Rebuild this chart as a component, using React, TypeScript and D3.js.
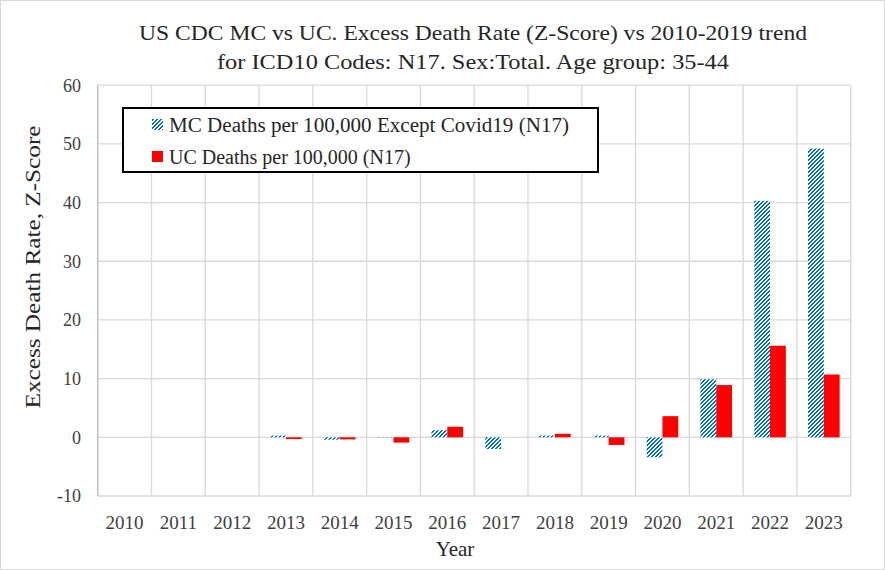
import React from "react";
import * as d3 from "d3";

const years = ["2010","2011","2012","2013","2014","2015","2016","2017","2018","2019","2020","2021","2022","2023"];
const mcValues = [0, 0, 0, 0.3, -0.4, 0.05, 1.2, -2.0, 0.3, 0.3, -3.4, 9.9, 40.3, 49.2];
const ucValues = [0, 0, 0, -0.3, -0.35, -0.9, 1.8, 0, 0.6, -1.3, 3.6, 8.9, 15.6, 10.7];
const yTicks = [-10, 0, 10, 20, 30, 40, 50, 60];
const seriesNames = ["MC Deaths per 100,000 Except Covid19 (N17)", "UC Deaths per 100,000 (N17)"];
const titleLines = ["US CDC MC vs UC. Excess Death Rate (Z-Score) vs 2010-2019 trend", "for ICD10 Codes: N17. Sex:Total. Age group: 35-44"];

const W = 885, H = 570;
const plot = { left: 97.7, right: 850.7, top: 85.2, bottom: 496 };
const FONT = "'Liberation Serif', 'Times New Roman', serif";

export default function App() {
  const x = d3.scaleBand().domain(years).range([plot.left, plot.right]).paddingInner(0).paddingOuter(0);
  const sub = d3.scaleBand().domain(["MC", "UC"]).range([0, x.bandwidth()]).paddingInner(0).paddingOuter(0.7);
  const y = d3.scaleLinear().domain([-10, 60]).range([plot.bottom, plot.top]);
  const boundaries = [...years.map((yr) => x(yr) as number), plot.right];
  const rows = years.map((yr, i) => ({ yr, mc: mcValues[i], uc: ucValues[i] }));

  return (
    <svg width={W} height={H} style={{ position: "absolute", left: 0, top: 0, display: "block" }} fontFamily={FONT}>
      <defs>
        <pattern id="hatch" width="4" height="4" patternUnits="userSpaceOnUse">
          <rect width="4" height="4" fill="#ffffff" />
          {[0, 1, 2, 3].map((r) => (
            <g key={r}>
              <rect x={(3 - r + 4) % 4} y={r} width="1" height="1" fill="#0070C0" shapeRendering="crispEdges" />
              <rect x={(4 - r + 4) % 4} y={r} width="1" height="1" fill="#0070C0" shapeRendering="crispEdges" />
            </g>
          ))}
        </pattern>
      </defs>
      <rect x={0} y={0} width={W} height={H} fill="#ffffff" />
      <rect x={0.5} y={0.5} width={W - 1} height={H - 1} fill="none" stroke="#d9d9d9" strokeWidth={1} />

      {/* gridlines */}
      {yTicks.map((t) => (
        <line key={"h" + t} x1={plot.left} x2={plot.right} y1={y(t)} y2={y(t)} stroke="#d9d9d9" strokeWidth={1.3} />
      ))}
      {boundaries.map((bx, i) => (
        <line key={"v" + i} x1={bx} x2={bx} y1={plot.top} y2={plot.bottom} stroke="#d9d9d9" strokeWidth={1.3} />
      ))}
      <line x1={plot.left} x2={plot.left} y1={plot.top} y2={plot.bottom} stroke="#bfbfbf" strokeWidth={1.3} />

      {/* bars */}
      {rows.map((r) => (
        <g key={r.yr}>
          <rect x={(x(r.yr) as number) + (sub("MC") as number)} width={sub.bandwidth()}
            y={y(Math.max(0, r.mc))} height={Math.abs(y(r.mc) - y(0))} fill="url(#hatch)" />
          <rect x={(x(r.yr) as number) + (sub("UC") as number)} width={sub.bandwidth()}
            y={y(Math.max(0, r.uc))} height={Math.abs(y(r.uc) - y(0))} fill="#FF0000" />
        </g>
      ))}

      {/* y tick labels */}
      {yTicks.map((t) => (
        <text key={"yl" + t} x={81} y={y(t)} dy="0.35em" textAnchor="end" fontSize={18} fill="#404040">{t}</text>
      ))}
      {/* x tick labels */}
      {years.map((yr) => (
        <text key={"xl" + yr} x={(x(yr) as number) + x.bandwidth() / 2} y={522} dy="0.35em" textAnchor="middle" fontSize={19} fill="#404040">{yr}</text>
      ))}

      {/* axis titles */}
      <text x={455} y={549} dy="0.35em" textAnchor="middle" fontSize={21} fill="#262626">Year</text>
      <text transform="translate(33, 267) rotate(-90)" dy="0.35em" textAnchor="middle" fontSize={21} fill="#262626" textLength={283} lengthAdjust="spacingAndGlyphs">Excess Death Rate, Z-Score</text>

      {/* title */}
      <text x={473} y={33} dy="0.35em" textAnchor="middle" fontSize={21} fill="#262626" textLength={668} lengthAdjust="spacingAndGlyphs">{titleLines[0]}</text>
      <text x={473} y={62} dy="0.35em" textAnchor="middle" fontSize={21} fill="#262626" textLength={512} lengthAdjust="spacingAndGlyphs">{titleLines[1]}</text>

      {/* legend */}
      <rect x={123} y={108} width={475} height={64} fill="#ffffff" stroke="#000000" strokeWidth={2} />
      <rect x={152} y={119} width={11} height={11} fill="url(#hatch)" />
      <text x={169} y={124.5} dy="0.35em" fontSize={20} fill="#262626" textLength={400} lengthAdjust="spacingAndGlyphs">{seriesNames[0]}</text>
      <rect x={152} y={151} width={11} height={11} fill="#FF0000" />
      <text x={169} y={156.5} dy="0.35em" fontSize={20} fill="#262626">{seriesNames[1]}</text>
    </svg>
  );
}
